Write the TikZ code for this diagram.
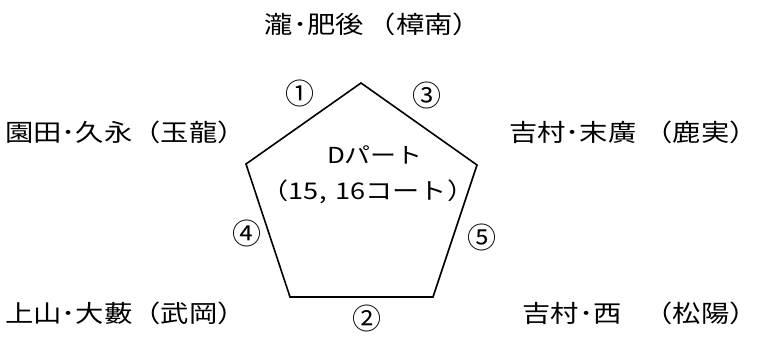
\documentclass[tikz,border=0pt]{standalone}
\usepackage{fontspec}
\setmainfont{Noto Sans CJK JP}[FakeStretch=1.18]
\newfontfamily\circfont{Noto Sans CJK JP}

\begin{document}
\begin{tikzpicture}[
        x=1pt, y=-1pt,
        every node/.style={font=\fontsize{24}{28}\selectfont, inner sep=0pt},
        side/.style={line width=1.6pt, line join=miter},
        court/.style={font=\fontsize{22}{26}\selectfont},
        order/.style={font=\circfont\fontsize{29}{32}\selectfont},
        team/.style={anchor=base west},
        teamright/.style={anchor=base east}
      ]
        \useasboundingbox (0,0) rectangle (758,339);

        % pentagon corners
        \coordinate (top) at (361,83);
        \coordinate (upleft) at (246,164);
        \coordinate (upright) at (477,165);
        \coordinate (lowleft) at (290,297);
        \coordinate (lowright) at (433,297);
        \draw[side] (top) -- (upright) -- (lowright) -- (lowleft) -- (upleft) -- cycle;

        % court
        \node[court] (court) at (375,155) {Dパート};
        \node[court, font=\fontsize{23}{28}\selectfont] (courtno) at (368,192) {（15,\hspace{9pt}16コート）};

        % match order
        \node[order] (m1) at (300,93) {①};
        \node[order] (m2) at (367,318) {②};
        \node[order] (m3) at (427,95) {③};
        \node[order] (m4) at (247,233) {④};
        \node[order] (m5) at (482,237) {⑤};

        % teams
        \node[anchor=base] (t1) at (373,34) {瀧･肥後\hspace{4pt}（樟南）};
        \node[team] (t2) at (5,142) {園田･久永（玉龍）};
        \node[teamright] (t3) at (758,142) {吉村･末廣\hspace{8pt}（鹿実）};
        \node[team] (t4) at (5,322) {上山･大藪（武岡）};
        \node[teamright] (t5) at (758,322) {吉村･西\hspace{23pt}（松陽）};

    \end{tikzpicture}
\end{document}
